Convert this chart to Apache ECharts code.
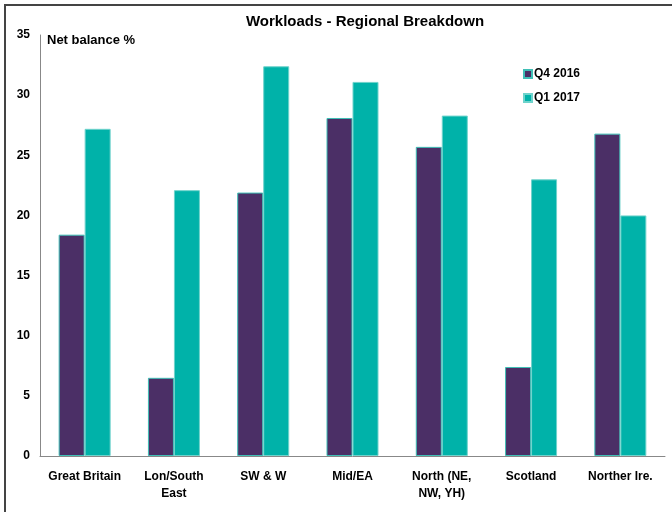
<!DOCTYPE html>
<html><head><meta charset="utf-8">
<script src="https://cdn.jsdelivr.net/npm/echarts@6/dist/echarts.min.js"></script>
<style>html,body{margin:0;padding:0;background:#fff}#c{width:672px;height:512px}</style>
</head><body><div id="c"></div>
<script>
const categories = ['Great Britain', 'Lon/South\nEast', 'SW & W', 'Mid/EA', 'North (NE,\nNW, YH)', 'Scotland', 'Norther Ire.'];
const q4_2016 = [18.4, 6.5, 21.9, 28.1, 25.7, 7.4, 26.8];
const q1_2017 = [27.2, 22.1, 32.4, 31.1, 28.3, 23.0, 20.0];
const yTicks = [0, 35, 5];
const FONT = '"Liberation Sans Narrow", "Liberation Sans", Arial, sans-serif';
const chart = echarts.init(document.getElementById('c'));
chart.setOption({
  animation: false,
  title: {
    text: 'Workloads - Regional Breakdown', left: 360, top: 9, textAlign: 'center',
    textStyle: { fontFamily: FONT, fontWeight: 'bold', fontSize: 15, color: '#000' }
  },
  graphic: [
    { type: 'rect', shape: { x: 5, y: 5, width: 700, height: 540 }, style: { fill: 'none', stroke: '#444', lineWidth: 2 } },
    { type: 'text', left: 47, top: 34, style: { text: 'Net balance %', font: 'bold 13px ' + FONT, fill: '#000' } }
  ],
  legend: {
    orient: 'vertical', left: 518, top: 63, itemGap: 12, itemWidth: 8, itemHeight: 8,
    icon: 'rect',
    textStyle: { fontFamily: FONT, fontWeight: 'bold', fontSize: 12, color: '#000', padding: [0, 0, 0, -3] },
    data: ['Q4 2016', 'Q1 2017']
  },
  grid: { left: 40, right: 7, top: 35, bottom: 56 },
  xAxis: {
    type: 'category', data: categories,
    axisLine: { lineStyle: { color: '#888', width: 1 } },
    axisTick: { show: false },
    axisLabel: { interval: 0, margin: 12, lineHeight: 17, fontFamily: FONT, fontWeight: 'bold', fontSize: 12, color: '#000' }
  },
  yAxis: {
    type: 'value', min: yTicks[0], max: yTicks[1], interval: yTicks[2],
    splitLine: { show: false },
    axisLine: { show: true, lineStyle: { color: '#888', width: 1 } },
    axisTick: { show: false },
    axisLabel: { margin: 10, fontFamily: FONT, fontWeight: 'bold', fontSize: 12, color: '#000' }
  },
  series: [
    { name: 'Q4 2016', type: 'bar', data: q4_2016, barWidth: 26, barGap: '0%',
      itemStyle: { color: '#4B2F66', borderColor: '#3FBFB6', borderWidth: 1 } },
    { name: 'Q1 2017', type: 'bar', data: q1_2017, barWidth: 26, barGap: '0%',
      itemStyle: { color: '#00B2A9', borderColor: '#6FD3CC', borderWidth: 1 } }
  ]
});
</script></body></html>
